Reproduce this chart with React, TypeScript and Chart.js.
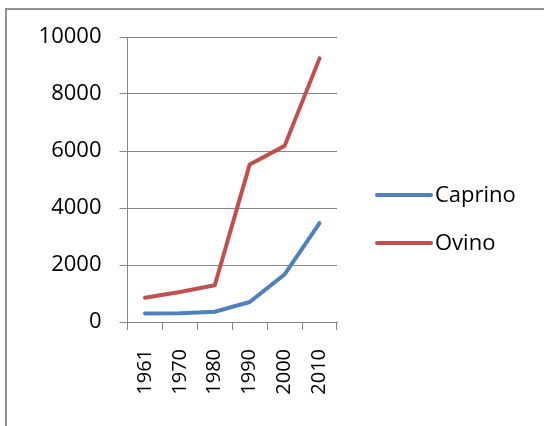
import React, { useEffect, useRef } from "react";
import { Chart, registerables } from "chart.js";

Chart.register(...registerables);

const years = ["1961", "1970", "1980", "1990", "2000", "2010"];
const caprino = [300, 310, 360, 700, 1670, 3470];
const ovino = [850, 1050, 1290, 5530, 6180, 9250];
const seriesNames = ["Caprino", "Ovino"];
const seriesColors = ["#4F81BD", "#C0504D"];

const FONT = "'Open Sans', 'Noto Sans', sans-serif";
const GRID = "#868686";

const frameAndLegend = {
  id: "frameAndLegend",
  beforeDraw(chart: any) {
    const ctx = chart.ctx;
    ctx.save();
    ctx.fillStyle = "#ffffff";
    ctx.fillRect(0, 0, chart.width, chart.height);
    ctx.fillStyle = "#929292";
    ctx.fillRect(5, 8, 2, chart.height - 8);
    ctx.fillRect(5, 8, chart.width - 5, 2);
    ctx.restore();
  },
  afterDraw(chart: any) {
    const ctx = chart.ctx;
    const area = chart.chartArea;
    const x0 = area.right + 40;
    const x1 = x0 + 54;
    ctx.save();
    chart.data.datasets.forEach((ds: any, i: number) => {
      const y = 195 + i * 48;
      ctx.strokeStyle = ds.borderColor;
      ctx.lineWidth = 4;
      ctx.lineCap = "round";
      ctx.beginPath();
      ctx.moveTo(x0, y);
      ctx.lineTo(x1, y);
      ctx.stroke();
      ctx.fillStyle = "#000000";
      ctx.font = `22px ${FONT}`;
      ctx.textBaseline = "middle";
      ctx.textAlign = "left";
      ctx.fillText(ds.label, x1 + 4, y + 1);
    });
    ctx.restore();
  },
};

export default function App() {
  const ref = useRef<HTMLCanvasElement | null>(null);

  useEffect(() => {
    if (!ref.current) return;
    const chart = new Chart(ref.current, {
      type: "line",
      data: {
        labels: years,
        datasets: [
          {
            label: seriesNames[0],
            data: caprino,
            borderColor: seriesColors[0],
            backgroundColor: seriesColors[0],
            borderWidth: 4,
            borderCapStyle: "round",
            borderJoinStyle: "round",
            pointRadius: 0,
            pointHoverRadius: 0,
            tension: 0,
          },
          {
            label: seriesNames[1],
            data: ovino,
            borderColor: seriesColors[1],
            backgroundColor: seriesColors[1],
            borderWidth: 4,
            borderCapStyle: "round",
            borderJoinStyle: "round",
            pointRadius: 0,
            pointHoverRadius: 0,
            tension: 0,
          },
        ],
      },
      options: {
        animation: false,
        responsive: false,
        devicePixelRatio: 1,
        layout: { padding: { left: 0, top: 37, right: 207, bottom: 0 } },
        plugins: {
          legend: { display: false },
          tooltip: { enabled: false },
        },
        scales: {
          x: {
            type: "category",
            offset: true,
            grid: {
              offset: true,
              drawOnChartArea: false,
              drawTicks: true,
              tickLength: 8,
              color: GRID,
              lineWidth: 1,
            },
            border: { display: true, color: GRID, width: 1 },
            ticks: {
              color: "#000000",
              font: { family: FONT, size: 20 },
              minRotation: 90,
              maxRotation: 90,
              padding: 19,
              autoSkip: false,
            },
            afterFit(scale: any) {
              scale.height = 104;
            },
          },
          y: {
            min: 0,
            max: 10000,
            grid: {
              color: GRID,
              lineWidth: 1,
              drawTicks: true,
              tickLength: 8,
            },
            border: { display: true, color: GRID, width: 1 },
            ticks: {
              stepSize: 2000,
              color: "#000000",
              font: { family: FONT, size: 22 },
              padding: 18,
              callback: (v: any) => String(v),
            },
            afterFit(scale: any) {
              scale.width = 127.5;
            },
          },
        },
      },
      plugins: [frameAndLegend],
    });
    return () => chart.destroy();
  }, []);

  return (
    <div style={{ position: "fixed", left: 0, top: 0, width: 544, height: 426, background: "#fff" }}>
      <canvas ref={ref} width={544} height={426} style={{ display: "block", width: 544, height: 426 }} />
    </div>
  );
}
